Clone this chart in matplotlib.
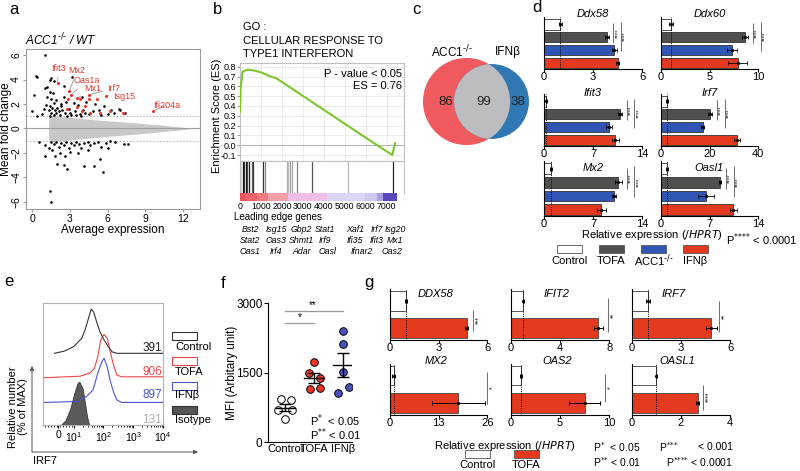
import numpy as np
import matplotlib
matplotlib.use('Agg')
import matplotlib.pyplot as plt
from matplotlib.patches import Rectangle, Circle

plt.rcParams['font.family'] = ['Liberation Sans', 'DejaVu Sans']
plt.rcParams['mathtext.default'] = 'regular'
plt.rcParams['axes.linewidth'] = 0.8

# ======================= DATA =======================
# (a) MA plot
cloud_x = [1.3, 1.5, 2, 3, 4, 5, 6, 7, 8, 9, 10, 11, 12, 12.5]
cloud_hi = [0.9, 1.05, 1.0, 0.9, 0.8, 0.7, 0.62, 0.55, 0.47, 0.38, 0.3, 0.2, 0.1, 0.02]
cloud_lo = [-0.9, -1.05, -1.05, -0.95, -0.85, -0.75, -0.65, -0.57, -0.48, -0.4, -0.3, -0.2, -0.1, -0.02]
sig_x = [1.0, 0.3, 0.4, 0.1, 1.2, 1.0, 1.4, 1.5, 1.4, 1.7, 1.65, 1.5, 1.7, 2.5, 3.2, 2.5, 3.95, 0.0, 0.4, 1.2,
         1.9, 2.3, 2.7, 3.3, 3.6, 4.3, 5.0, 5.7, 6.9, 7.0, 7.4, 6.5, 6.0, 5.3, 4.8, 4.5, 4.0, 3.8, 3.4, 3.1,
         2.9, 2.6, 2.4, 2.2, 2.0, 1.9, 1.8, 1.7, 1.6, 1.5, 1.4, 1.35, 1.45, 2.1, 2.3, 2.8, 3.0, 3.5, 3.9, 4.2,
         5.5, 6.3, 0.8, 0.9, 1.1,
         1.05, 2.0, 2.5, 2.8, 4.1, 4.9, 5.4, 5.65, 1.4, 1.5, 1.8, 7.3, 7.6, 1.5, 1.7, 1.9, 2.1, 2.3, 2.5, 2.7,
         2.9, 3.1, 3.3, 3.5, 3.7, 3.9, 4.1, 4.4, 4.6, 4.9, 5.2, 5.5, 5.9, 6.2, 1.3, 1.6, 2.2, 3.0, 3.6, 4.4,
         0.5, 1.0, 2.6, 6.0, 6.6]
sig_y = [6.0, 4.3, 4.2, 2.7, 3.35, 3.3, 3.95, 4.15, 3.0, 3.85, 2.9, 2.4, 2.1, 3.5, 4.2, 2.6, 2.6, 1.4, 1.0, 2.6,
         2.3, 2.0, 2.2, 2.1, 1.9, 2.2, 2.0, 1.8, 1.6, 1.5, 1.3, 1.3, 1.2, 1.5, 1.4, 1.2, 1.5, 1.2, 1.4, 1.1,
         1.6, 1.3, 1.5, 1.1, 1.7, 1.3, 1.5, 1.1, 1.7, 1.3, 1.0, 1.5, 1.8, 1.4, 1.8, 1.0, 1.3, 1.1, 1.05, 1.3,
         1.1, 1.5, 1.2, 1.6, 1.9,
         -2.3, -2.9, -3.0, -3.3, -3.1, -3.1, -2.5, -3.6, -5.1, -6.0, -2.3, -1.3, -1.3, -1.1, -1.3, -1.1, -1.5, -1.2, -1.4, -1.1,
         -1.6, -1.2, -1.4, -1.1, -1.3, -1.6, -1.2, -1.1, -1.4, -1.2, -1.1, -1.5, -1.2, -1.0, -1.6, -1.8, -2.0, -1.9, -2.0, -1.8,
         -1.1, -1.4, -2.3, -1.6, -1.1]
isg_x = [2.01, 2.94, 3.10, 2.81, 3.55, 3.82, 4.48, 4.53, 5.14, 5.88, 4.16, 3.55, 6.20, 7.26, 9.59, 5.40, 2.76, 4.56, 3.95]
isg_y = [3.69, 3.03, 2.76, 2.40, 2.46, 2.40, 2.73, 2.40, 2.40, 2.68, 1.85, 1.72, 1.44, 1.25, 1.42, 1.30, 1.58, 1.30, 1.44]
isg_names = ['Ifit3', 'Mx2', 'Oas1a', 'Mx1', 'Irf7', 'Isg15', 'Ifi204a']
isg_name_pt = [0, 1, 2, 4, 6, 9, 14]
isg_name_xy = [(2.1, 4.9), (3.55, 4.7), (4.35, 3.9), (4.85, 3.25), (6.45, 3.3), (7.3, 2.65), (10.7, 1.9)]

# (b) GSEA
es_x = [0, 30, 125, 350, 715, 1035, 1350, 1750, 3090, 4640, 6190, 7270, 7400]
es_y = [0.34, 0.58, 0.75, 0.77, 0.76, 0.74, 0.71, 0.68, 0.49, 0.27, 0.05, -0.10, 0.02]
hit_pos = [0, 20, 127, 190, 270, 350, 445, 557, 636, 1082, 1210, 2227, 2308, 2387, 2467, 2704, 3421, 5170, 7320]
hit_col = ['#222', '#555', '#111', '#333', '#111', '#444', '#222', '#666', '#333', '#333', '#888',
           '#aaa', '#bbb', '#999', '#aaa', '#888', '#555', '#bbb', '#222']
rank_edges = [0, 240, 800, 1350, 2300, 4140, 5970, 6520, 6840, 7480]
rank_cols = ['#e8505a', '#ec6268', '#f07a80', '#f3a0a8', '#efbde6', '#dcd6f6', '#cdc8f2', '#a8a0e4', '#5848c0']
lead_rows = [['Bst2', 'Isg15', 'Gbp2', 'Stat1', 'Xaf1', 'Irf7', 'Isg20'],
             ['Stat2', 'Oas3', 'Shmt1', 'Irf9', 'Ifi35', 'Ifit3', 'Mx1'],
             ['Oas1', 'Irf4', 'Adar', 'Oasl', 'Ifnar2', 'Oas2']]

# (c) Venn
venn_only_a, venn_both, venn_only_b = 86, 99, 38

# (d) qPCR mouse
d_genes = ['Ddx58', 'Ddx60', 'Ifit3', 'Irf7', 'Mx2', 'Oasl1']
d_means = [[1.0, 3.85, 4.3, 4.5], [1.0, 8.7, 7.3, 7.9], [0.35, 10.8, 9.3, 10.2],
           [2.5, 20.2, 17.2, 31.5], [1.0, 10.6, 10.0, 8.2], [0.8, 8.5, 6.5, 10.4]]
d_errs = [[0.1, 0.1, 0.15, 0.08], [0.2, 0.3, 0.5, 1.0], [0.1, 0.3, 0.4, 0.5],
          [0.5, 1.0, 0.7, 1.2], [0.15, 0.5, 0.3, 0.6], [0.15, 0.2, 1.1, 0.5]]
d_xmax = [6, 10, 14, 40, 14, 14]
d_groups = ['Control', 'TOFA', r'ACC1$^{\text{-/-}}$', 'IFNβ']

# (e) flow histograms (x in decades, y offset units)
ctl_x = [0.355, 0.68, 1.0, 1.27, 1.38, 1.48, 1.59, 1.67, 1.77, 1.88, 2.02, 2.16, 2.29, 2.45, 4.0]
ctl_y = [2.35, 2.42, 2.57, 2.84, 3.11, 3.44, 3.80, 3.71, 3.39, 3.06, 2.79, 2.57, 2.40, 2.35, 2.35]
tofa_x = [0.0, 1.22, 1.54, 1.7, 1.81, 1.91, 2.02, 2.13, 2.24, 2.35, 2.45, 2.61, 4.0]
tofa_y = [1.55, 1.60, 1.70, 1.86, 2.24, 2.79, 2.97, 2.84, 2.35, 1.92, 1.64, 1.58, 1.58]
ifn_x = [0.0, 1.11, 1.43, 1.65, 1.81, 1.95, 2.02, 2.13, 2.24, 2.35, 2.45, 2.61, 4.0]
ifn_y = [0.74, 0.77, 0.93, 1.15, 1.70, 2.08, 2.19, 1.90, 1.40, 1.05, 0.82, 0.74, 0.74]
iso_x = [0.57, 0.73, 0.89, 1.02, 1.13, 1.19, 1.30, 1.38, 1.45, 1.52]
iso_y = [0.0, 0.16, 0.55, 1.04, 1.37, 1.42, 1.20, 0.71, 0.27, 0.0]
e_mfi = ['391', '906', '897', '131']
e_names = ['Control', 'TOFA', 'IFNβ', 'Isotype']

# (f) MFI
f_cats = ['Control', 'TOFA', 'IFNβ']
f_vals = [[930, 920, 700, 690, 510], [1740, 1500, 1395, 1145, 1165], [2400, 2115, 1525, 1200, 1057]]

# (g) qPCR human
g_genes = ['DDX58', 'IFIT2', 'IRF7', 'MX2', 'OAS2', 'OASL1']
g_means = [[1.0, 4.73], [1.0, 7.1], [1.0, 4.86], [1.0, 18.3], [1.0, 7.5], [1.0, 2.68]]
g_errs = [[0.05, 0.1], [0.05, 0.35], [0.1, 0.35], [0.4, 7.0], [0.1, 1.6], [0.03, 0.05]]
g_xmax = [6, 8, 6, 26, 10, 4]
g_stars = ['***', '**', '**', '*', '*', '****']

# ======================= FIGURE =======================
W, H = 800, 471
fig = plt.figure(figsize=(8, 4.71), dpi=100)


def axpx(x0, y0, x1, y1):
    return fig.add_axes([x0 / W, 1 - y1 / H, (x1 - x0) / W, (y1 - y0) / H])


ov = fig.add_axes([0, 0, 1, 1], zorder=10)
ov.set_xlim(0, W)
ov.set_ylim(H, 0)
ov.axis('off')

RED = '#e3391f'
BLUE = '#2f55b5'
DGRAY = '#4f4f4f'

# panel letters
for s, x, y in [('a', 14, 10), ('b', 218, 9), ('c', 416, 9), ('d', 537, 7), ('e', 9, 282), ('f', 223, 283), ('g', 369, 283)]:
    ov.text(x, y, s, fontsize=12, ha='center', va='center')

# ---------- (a) ----------
axA = axpx(26, 49, 200, 209)
axA.fill_between(cloud_x, cloud_lo, cloud_hi, color='#c8c8c8', lw=0, zorder=1)
axA.axhline(0, color='#a0a0a0', lw=0.8, zorder=2)
for yy in (1, -1):
    axA.axhline(yy, color='#a8a8a8', lw=0.6, ls=(0, (2, 2)), zorder=2)
axA.scatter(sig_x, sig_y, s=3.5, c='black', lw=0, zorder=3)
axA.scatter(isg_x, isg_y, s=5, c='#e8372a', lw=0, zorder=4)
for name, idx, (tx, ty) in zip(isg_names, isg_name_pt, isg_name_xy):
    axA.annotate(name, xy=(isg_x[idx], isg_y[idx]), xytext=(tx, ty), color='#e8372a', fontsize=6.5,
                 ha='center', va='center',
                 arrowprops=dict(arrowstyle='-', color='#888888', lw=0.5, shrinkA=1, shrinkB=1))
axA.set_xlim(-0.5, 13.35)
axA.set_ylim(-6.6, 6.5)
axA.set_xticks([0, 3, 6, 9, 12])
axA.set_yticks([-6, -4, -2, 0, 2, 4, 6])
for lab in axA.get_yticklabels():
    lab.set_rotation(90)
    lab.set_va('center')
for sp in axA.spines.values():
    sp.set_color('#9a9a9a')
axA.tick_params(labelsize=7.5, length=2.5, color='#9a9a9a', pad=1)
axA.set_xlabel('Average expression', fontsize=8.5, labelpad=0)
ov.text(6, 129, 'Mean fold change', rotation=90, fontsize=8.5, ha='center', va='center')
ov.text(25, 40, r'ACC1$^{\text{-/-}}$ / WT', fontsize=8.5, style='italic', ha='left', va='center')

# ---------- (b) ----------
for i, s in enumerate(['GO :', 'CELLULAR RESPONSE TO', 'TYPE1 INTERFERON']):
    ov.text(243, 27 + 13.5 * i, s, fontsize=8, ha='left', va='center')
axB = axpx(240, 63, 404, 161)
axB.plot(es_x, es_y, color='#7cc62d', lw=1.5, zorder=3)
axB.set_xlim(0, 7830)
axB.set_ylim(-0.161, 0.838)
yt = np.round(np.arange(-0.1, 0.81, 0.1), 1)
axB.set_yticks(yt)
axB.set_yticklabels(['%.1f' % v for v in yt])
axB.set_xticks(range(0, 8000, 1000))
axB.tick_params(axis='x', length=0, labelbottom=False)
axB.tick_params(axis='y', labelsize=6.5, length=2, pad=1, color='#999')
axB.grid(True, color='#e8e8e8', lw=0.6)
axB.axhline(0, color='#b0b0b0', lw=0.7)
for sp in axB.spines.values():
    sp.set_color('#c0c0c0')
ov.text(217, 116, 'Enrichment Score (ES)', rotation=90, fontsize=8, ha='center', va='center')
ov.text(402, 74, 'P - value < 0.05', fontsize=8, ha='right', va='center')
ov.text(402, 86, 'ES = 0.76', fontsize=8, ha='right', va='center')

axBc = axpx(240, 161, 404, 193)
axBc.vlines(hit_pos, 0, 1, colors=hit_col, lw=0.9)
axBc.set_xlim(0, 7830)
axBc.set_ylim(0, 1)
axBc.set_xticks([])
axBc.set_yticks([])
for sp in axBc.spines.values():
    sp.set_color('#c0c0c0')

axBr = axpx(240, 193, 404, 201)
for i, c in enumerate(rank_cols):
    axBr.axvspan(rank_edges[i], rank_edges[i + 1], color=c, lw=0)
axBr.set_xlim(0, 7830)
axBr.set_ylim(0, 1)
axBr.set_yticks([])
axBr.set_xticks(range(0, 8000, 1000))
axBr.tick_params(axis='x', length=0, labelsize=6.3, pad=1)
for sp in axBr.spines.values():
    sp.set_visible(False)
ov.text(234, 217, 'Leading edge genes', fontsize=7, ha='left', va='center')
row_cols = [[250, 276, 301, 325, 355, 377, 395], [250, 276, 301, 325, 355, 377, 395],
            [250, 276, 302, 328, 362, 392]]
for r, (names, xs) in enumerate(zip(lead_rows, row_cols)):
    for nm, xx in zip(names, xs):
        ov.text(xx, 229 + 11.5 * r, nm, fontsize=6.3, style='italic', ha='center', va='center')

# ---------- (c) ----------
axC = axpx(415, 45, 535, 160)
axC.set_xlim(0, 120)
axC.set_ylim(115, 0)
axC.set_aspect('equal')
axC.axis('off')
k = 3.2
ra = k * np.sqrt(venn_only_a + venn_both)
rb = k * np.sqrt(venn_only_b + venn_both)
ca = (51.5, 56.5)
cb = (ca[0] + 25, 56.5)
circA = Circle(ca, ra, color='#ef5a5f', lw=0)
circB = Circle(cb, rb, color='#2f78b4', lw=0)
axC.add_patch(circA)
axC.add_patch(circB)
circI = Circle(cb, rb, color='#bdbcc0', lw=0)
axC.add_patch(circI)
circI.set_clip_path(circA)
ov.text(446, 102, str(venn_only_a), fontsize=9.5, ha='center', va='center', color='#222')
ov.text(484, 102, str(venn_both), fontsize=9.5, ha='center', va='center', color='#222')
ov.text(518, 102, str(venn_only_b), fontsize=9.5, ha='center', va='center', color='#222')
ov.text(452, 52, r'ACC1$^{\text{-/-}}$', fontsize=8.5, ha='center', va='center')
ov.text(508, 52, 'IFNβ', fontsize=8.5, ha='center', va='center')

# ---------- (d) ----------
d_cols = ['white', DGRAY, BLUE, RED]
d_xbox = [(544, 642), (661, 758)]
d_ybox = [(17, 69), (94, 146), (161, 216)]
d_title_y = [14, 93, 168]
ypos = [3, 2, 1, 0]
for i, g in enumerate(d_genes):
    r, c = divmod(i, 2)
    x0, x1 = d_xbox[c]
    y0, y1 = d_ybox[r]
    ax = axpx(x0, y0, x1, y1)
    m = d_means[i]
    e = d_errs[i]
    xm = d_xmax[i]
    ax.barh(ypos, m, height=0.8, color=d_cols, edgecolor='#333333', lw=0.6, zorder=2)
    ax.errorbar(m, ypos, xerr=e, fmt='o', ms=1.3, color='black', capsize=1.5, elinewidth=0.6,
                capthick=0.6, zorder=3)
    ax.axvline(m[0], color='black', ls=(0, (1, 1.2)), lw=0.7, zorder=4)
    ax.set_xlim(0, xm)
    ax.set_ylim(-0.47, 3.58)
    ax.set_xticks([0, xm / 2, xm])
    ax.set_xticklabels(['0', '%g' % (xm / 2), '%g' % xm])
    ax.set_yticks([])
    ax.tick_params(axis='x', labelsize=8, length=2, pad=0.5)
    ax.spines['top'].set_visible(False)
    ax.spines['right'].set_visible(False)
    l1 = max(m[0] + e[0], m[1] + e[1]) + 0.05 * xm
    l2 = l1 + 0.08 * xm
    ax.vlines([l1], 1.55, 3.1, color='#555', lw=0.6, clip_on=False)
    ax.vlines([l2], 0.9, 3.2, color='#555', lw=0.6, clip_on=False)
    ax.text(l1 + 0.012 * xm, 2.3, '****', rotation=90, fontsize=4.5, ha='left', va='center', clip_on=False)
    ax.text(l2 + 0.012 * xm, 2.05, '****', rotation=90, fontsize=4.5, ha='left', va='center', clip_on=False)
    ov.text((x0 + x1) / 2, d_title_y[r], g, fontsize=8, style='italic', ha='center', va='center')

ov.text(652, 235, r'Relative expression ($\it{/HPRT}$)', fontsize=8, ha='center', va='center')
ov.text(798, 240, r'P$^{\text{****}}$ < 0.0001', fontsize=8, ha='right', va='center')
for xb, col, nm in zip([557, 599, 641, 683], d_cols, d_groups):
    ov.add_patch(Rectangle((xb, 245), 25, 8, facecolor=col, edgecolor='#555', lw=0.6))
    ov.text(xb + 12.5, 261, nm, fontsize=8, ha='center', va='center')

# ---------- (e) ----------
axE = axpx(43, 303, 163, 425)
axE.fill_between(iso_x, 0, iso_y, color='#5a5a5a', lw=0.6, edgecolor='#333')
axE.plot(ifn_x, ifn_y, color='#4a55d0', lw=0.8)
axE.plot(tofa_x, tofa_y, color='#e84545', lw=0.8)
axE.plot(ctl_x, ctl_y, color='#333333', lw=0.8)
axE.set_xlim(-0.03, 4.0)
axE.set_ylim(0, 4.0)
axE.set_yticks([])
axE.set_xticks([0.48, 1, 2, 3, 4])
axE.set_xticklabels(['0', r'10$^1$', r'10$^2$', r'10$^3$', r'10$^4$'])
minor = [d + np.log10(kk) for d in (1, 2, 3) for kk in range(2, 10)] + list(np.arange(0.05, 1.0, 0.1))
axE.set_xticks(minor, minor=True)
axE.tick_params(axis='x', which='major', labelsize=7.5, length=2.5, pad=1)
axE.tick_params(axis='x', which='minor', length=1.5)
for sp in axE.spines.values():
    sp.set_color('#b0b0b0')
e_cols = ['#222222', '#e84545', '#4a55d0', '#b0b0b0']
for j, (txt, col, yy) in enumerate(zip(e_mfi, e_cols, [348, 372, 395, 420])):
    ov.text(162, yy, txt, color=col, fontsize=8.5, ha='right', va='center')
box_fc = ['white', 'white', 'white', '#555555']
box_ec = ['#333333', '#e84545', '#4a55d0', '#333333']
for nm, fc, ec, yb, yt_ in zip(e_names, box_fc, box_ec, [332, 357, 382, 406], [347, 372, 395, 420]):
    ov.add_patch(Rectangle((172, yb), 25, 8, facecolor=fc, edgecolor=ec, lw=0.8))
    ov.text(175, yt_, nm, fontsize=8, ha='left', va='center')
ov.annotate('', xy=(32, 366), xytext=(32, 452),
            arrowprops=dict(arrowstyle='-|>', color='#555', lw=0.7, mutation_scale=6, shrinkA=0, shrinkB=0))
ov.annotate('', xy=(198, 452), xytext=(32, 452),
            arrowprops=dict(arrowstyle='-|>', color='#555', lw=0.7, mutation_scale=6, shrinkA=0, shrinkB=0))
ov.text(18, 407, 'Relative number\n(% of MAX)', rotation=90, fontsize=8, ha='center', va='center',
        linespacing=1.1)
ov.text(33, 461, 'IRF7', fontsize=8, ha='left', va='center')

# ---------- (f) ----------
axF = axpx(268, 296, 352, 442.3)
f_off = [[-0.15, 0.2, -0.23, 0.23, 0.0], [0.0, -0.18, 0.2, -0.15, 0.2], [0.0, 0.0, 0.0, 0.2, -0.17]]
f_fc = ['white', '#e8352a', '#4a50c0']
for i, vals in enumerate(f_vals):
    xs = [i + o for o in f_off[i]]
    axF.scatter(xs, vals, s=30, facecolor=f_fc[i], edgecolor='black', lw=0.7, zorder=3)
    mu = np.mean(vals)
    se = np.std(vals, ddof=1) / np.sqrt(len(vals))
    axF.plot([i - 0.33, i + 0.33], [mu, mu], color='black', lw=1.0, zorder=4)
    axF.errorbar([i], [mu], yerr=[se], fmt='none', ecolor='black', elinewidth=1.0, capsize=4,
                 capthick=1.0, zorder=4)
axF.plot([0.0, 1.0], [2568, 2568], color='#999', lw=0.9)
axF.plot([0.0, 2.0], [2840, 2840], color='#999', lw=0.9)
axF.text(0.5, 2590, '*', fontsize=7, ha='center', va='bottom')
axF.text(0.95, 2860, '**', fontsize=7, ha='center', va='bottom')
axF.set_xlim(-0.59, 2.31)
axF.set_ylim(0, 3158)
axF.spines['top'].set_visible(False)
axF.spines['right'].set_visible(False)
axF.spines['left'].set_bounds(0, 3000)
axF.set_yticks([0, 1500, 3000])
axF.set_xticks([0, 1, 2])
axF.set_xticklabels(f_cats)
axF.tick_params(axis='y', labelsize=8.5, length=3, pad=1)
axF.tick_params(axis='x', labelsize=8, length=0, pad=1.5)
ov.text(232, 373, 'MFI (Arbitary unit)', rotation=90, fontsize=8.5, ha='center', va='center')
ov.text(310, 421, r'P$^{\text{*}}$  < 0.05', fontsize=8, ha='left', va='center')
ov.text(310, 435, r'P$^{\text{**}}$ < 0.01', fontsize=8, ha='left', va='center')

# ---------- (g) ----------
g_xbox = [(390, 487.3), (511, 609.3), (631.7, 730)]
g_ybox = [(289, 340), (364, 414.5)]
g_title_xy = [(436, 294), (557, 294), (674, 294), (436, 361), (557, 361), (677, 361)]
g_sig_x = [0.857, 0.99, 0.89, 1.0, 0.96, 0.73]
g_sig_span = [(-0.1, 0.67), (-0.14, 1.1), (-0.14, 0.97), (-0.05, 1.13), (0.02, 1.06), (-0.25, 0.67)]
for i, g in enumerate(g_genes):
    r, c = divmod(i, 3)
    x0, x1 = g_xbox[c]
    y0, y1 = g_ybox[r]
    ax = axpx(x0, y0, x1, y1)
    m = g_means[i]
    e = g_errs[i]
    xm = g_xmax[i]
    ax.barh([1, 0], m, height=0.72, color=['white', RED], edgecolor='#555555', lw=0.7, zorder=2)
    ax.errorbar(m, [1, 0], xerr=e, fmt='o', ms=1.3, color='black', capsize=1.5, elinewidth=0.7,
                capthick=0.7, zorder=3)
    ax.axvline(m[0], color='black', ls=(0, (1, 1.2)), lw=0.7, zorder=4)
    ax.set_xlim(0, xm)
    ax.set_ylim(-0.42, 1.42)
    ax.set_xticks([0, xm / 2, xm])
    ax.set_xticklabels(['0', '%g' % (xm / 2), '%g' % xm])
    ax.set_yticks([])
    ax.tick_params(axis='x', labelsize=8, length=2, pad=0.5)
    ax.spines['top'].set_visible(False)
    ax.spines['right'].set_visible(False)
    sx = g_sig_x[i] * xm
    lo, hi = g_sig_span[i]
    ax.vlines([sx], lo, hi, color='#555', lw=0.6, clip_on=False)
    ax.text(sx + 0.02 * xm, (lo + hi) / 2, g_stars[i], rotation=90, fontsize=5, ha='left', va='center',
            clip_on=False)
    tx, ty = g_title_xy[i]
    ov.text(tx, ty, g, fontsize=8, style='italic', ha='center', va='center')

ov.text(505, 446, r'Relative expression ($\it{/HPRT}$)', fontsize=8, ha='center', va='center')
for xb, col, nm in zip([465, 514], ['white', RED], ['Control', 'TOFA']):
    ov.add_patch(Rectangle((xb, 450), 25, 8, facecolor=col, edgecolor='#555', lw=0.6))
    ov.text(xb + 12.5, 464.5, nm, fontsize=8, ha='center', va='center')
ov.text(593, 447, r'P$^{\text{*}}$  < 0.05', fontsize=7.5, ha='left', va='center')
ov.text(593, 462, r'P$^{\text{**}}$ < 0.01', fontsize=7.5, ha='left', va='center')
ov.text(659, 447, r'P$^{\text{***}}$', fontsize=7.5, ha='left', va='center')
ov.text(733, 447, '< 0.001', fontsize=7.5, ha='right', va='center')
ov.text(733, 462, r'P$^{\text{****}}$ < 0.0001', fontsize=7.5, ha='right', va='center')

fig.savefig('out.png', dpi=100)
